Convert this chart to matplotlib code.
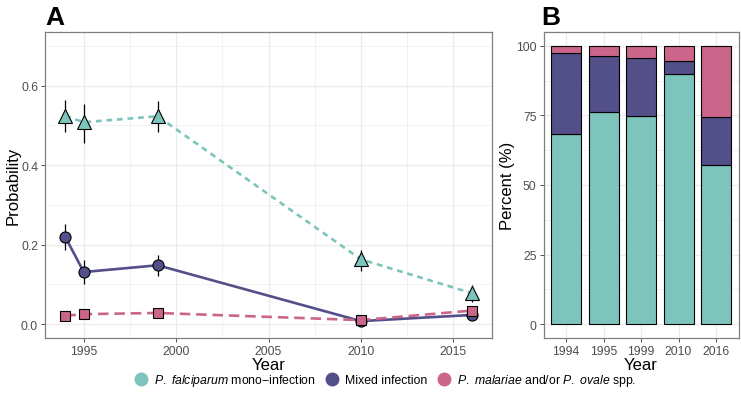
import matplotlib
matplotlib.use("Agg")
import matplotlib.pyplot as plt
from matplotlib.lines import Line2D
import numpy as np

plt.rcParams['font.family'] = ['Liberation Sans', 'DejaVu Sans']
plt.rcParams['mathtext.fontset'] = 'custom'
plt.rcParams['mathtext.it'] = 'Liberation Sans:italic'
plt.rcParams['mathtext.rm'] = 'Liberation Sans'

# ---- data ----
years = [1994, 1995, 1999, 2010, 2016]
pf_prob = [0.524, 0.508, 0.523, 0.163, 0.078]
pf_lo = [0.483, 0.456, 0.484, 0.133, 0.056]
pf_hi = [0.564, 0.554, 0.561, 0.187, 0.098]
mixed_prob = [0.219, 0.131, 0.148, 0.0075, 0.023]
mixed_lo = [0.186, 0.100, 0.121, 0.003, 0.015]
mixed_hi = [0.253, 0.162, 0.173, 0.012, 0.031]
pm_prob = [0.021, 0.025, 0.028, 0.010, 0.034]
pm_lo = [0.016, 0.018, 0.021, 0.006, 0.024]
pm_hi = [0.027, 0.032, 0.036, 0.015, 0.045]

bar_labels = ['1994', '1995', '1999', '2010', '2016']
pf_pct = [68.5, 76.3, 74.9, 89.9, 57.3]
mixed_pct = [28.8, 19.9, 20.9, 4.5, 17.0]
pm_pct = [100 - a - b for a, b in zip(pf_pct, mixed_pct)]

TEAL = '#7DC4BD'
PURPLE = '#534F89'
PINK = '#CB6589'
GRIDC = '#EBEBEB'
TICKC = '#4D4D4D'

fig = plt.figure(figsize=(7.41, 4.06), dpi=100)
axA = fig.add_axes([45/741, 1-339/406, 447/741, 306/406])
axB = fig.add_axes([543.5/741, 1-339/406, 195/741, 306/406])

def style(ax):
    for s in ax.spines.values():
        s.set_color('#7F7F7F')
        s.set_linewidth(0.9)
    ax.tick_params(colors='#333333', labelcolor=TICKC, labelsize=8.8, length=3, width=0.6, pad=2)
    ax.tick_params(which='minor', length=0)
    ax.set_axisbelow(True)
    ax.grid(True, which='major', color=GRIDC, linewidth=0.9)
    ax.grid(True, which='minor', color=GRIDC, linewidth=0.45)

# ---- panel A ----
style(axA)
series = [
    (pf_prob, pf_lo, pf_hi, TEAL, (0, (2.2, 1.8)), '^', 9.5),
    (mixed_prob, mixed_lo, mixed_hi, PURPLE, '-', 'o', 8),
    (pm_prob, pm_lo, pm_hi, PINK, (0, (4, 2.2)), 's', 7),
]
z = 2
for prob, lo, hi, col, ls, mk, ms in series:
    axA.plot(years, prob, color=col, linestyle=ls, linewidth=1.9, zorder=z)
    axA.vlines(years, lo, hi, color='black', linewidth=0.9, zorder=z + 0.5)
    axA.plot(years, prob, linestyle='none', marker=mk, markersize=ms,
             markerfacecolor=col, markeredgecolor='black', markeredgewidth=0.8, zorder=z + 1)
    z += 2

axA.set_xlim(1992.9, 2017.1)
axA.set_ylim(-0.035, 0.735)
axA.set_xticks([1995, 2000, 2005, 2010, 2015])
axA.set_xticks([1997.5, 2002.5, 2007.5, 2012.5], minor=True)
axA.set_yticks([0.0, 0.2, 0.4, 0.6])
axA.set_yticklabels(['0.0', '0.2', '0.4', '0.6'])
axA.set_yticks([0.1, 0.3, 0.5, 0.7], minor=True)
axA.set_xlabel('Year', fontsize=12, labelpad=0)
axA.set_ylabel('Probability', fontsize=12, labelpad=0.5)

# ---- panel B ----
style(axB)
x = np.arange(1, len(bar_labels) + 1)
axB.bar(x, pf_pct, width=0.8, color=TEAL, edgecolor='black', linewidth=0.8, zorder=2)
axB.bar(x, mixed_pct, width=0.8, bottom=pf_pct, color=PURPLE, edgecolor='black', linewidth=0.8, zorder=2)
bot2 = [a + b for a, b in zip(pf_pct, mixed_pct)]
axB.bar(x, pm_pct, width=0.8, bottom=bot2, color=PINK, edgecolor='black', linewidth=0.8, zorder=2)
axB.set_xlim(0.4, 5.6)
axB.set_ylim(-5, 105)
axB.set_xticks(x)
axB.set_xticklabels(bar_labels)
axB.set_yticks([0, 25, 50, 75, 100])
axB.set_yticks([12.5, 37.5, 62.5, 87.5], minor=True)
axB.grid(False, axis='x', which='minor')
axB.set_xlabel('Year', fontsize=12, labelpad=0)
axB.set_ylabel('Percent (%)', fontsize=12, labelpad=0.5)

# panel letters
fig.text(45/741, 1-18/406, 'A', fontsize=19, fontweight='bold', va='center', ha='left')
fig.text(541/741, 1-18/406, 'B', fontsize=19, fontweight='bold', va='center', ha='left')

# legend
handles = [Line2D([], [], linestyle='none', marker='o', markersize=9, markerfacecolor=c,
                  markeredgecolor=c) for c in (TEAL, PURPLE, PINK)]
labels = [r'$\mathit{P.}$ $\mathit{falciparum}$ mono$-$infection',
          'Mixed infection',
          r'$\mathit{P.}$ $\mathit{malariae}$ and/or $\mathit{P.}$ $\mathit{ovale}$ spp.']
fig.legend(handles, labels, loc='center', bbox_to_anchor=(384/741, 1-381/406), ncol=3,
           frameon=False, fontsize=8.8, handletextpad=0.3, columnspacing=0.6,
           handlelength=1.5)

fig.savefig('out.png', dpi=100)
